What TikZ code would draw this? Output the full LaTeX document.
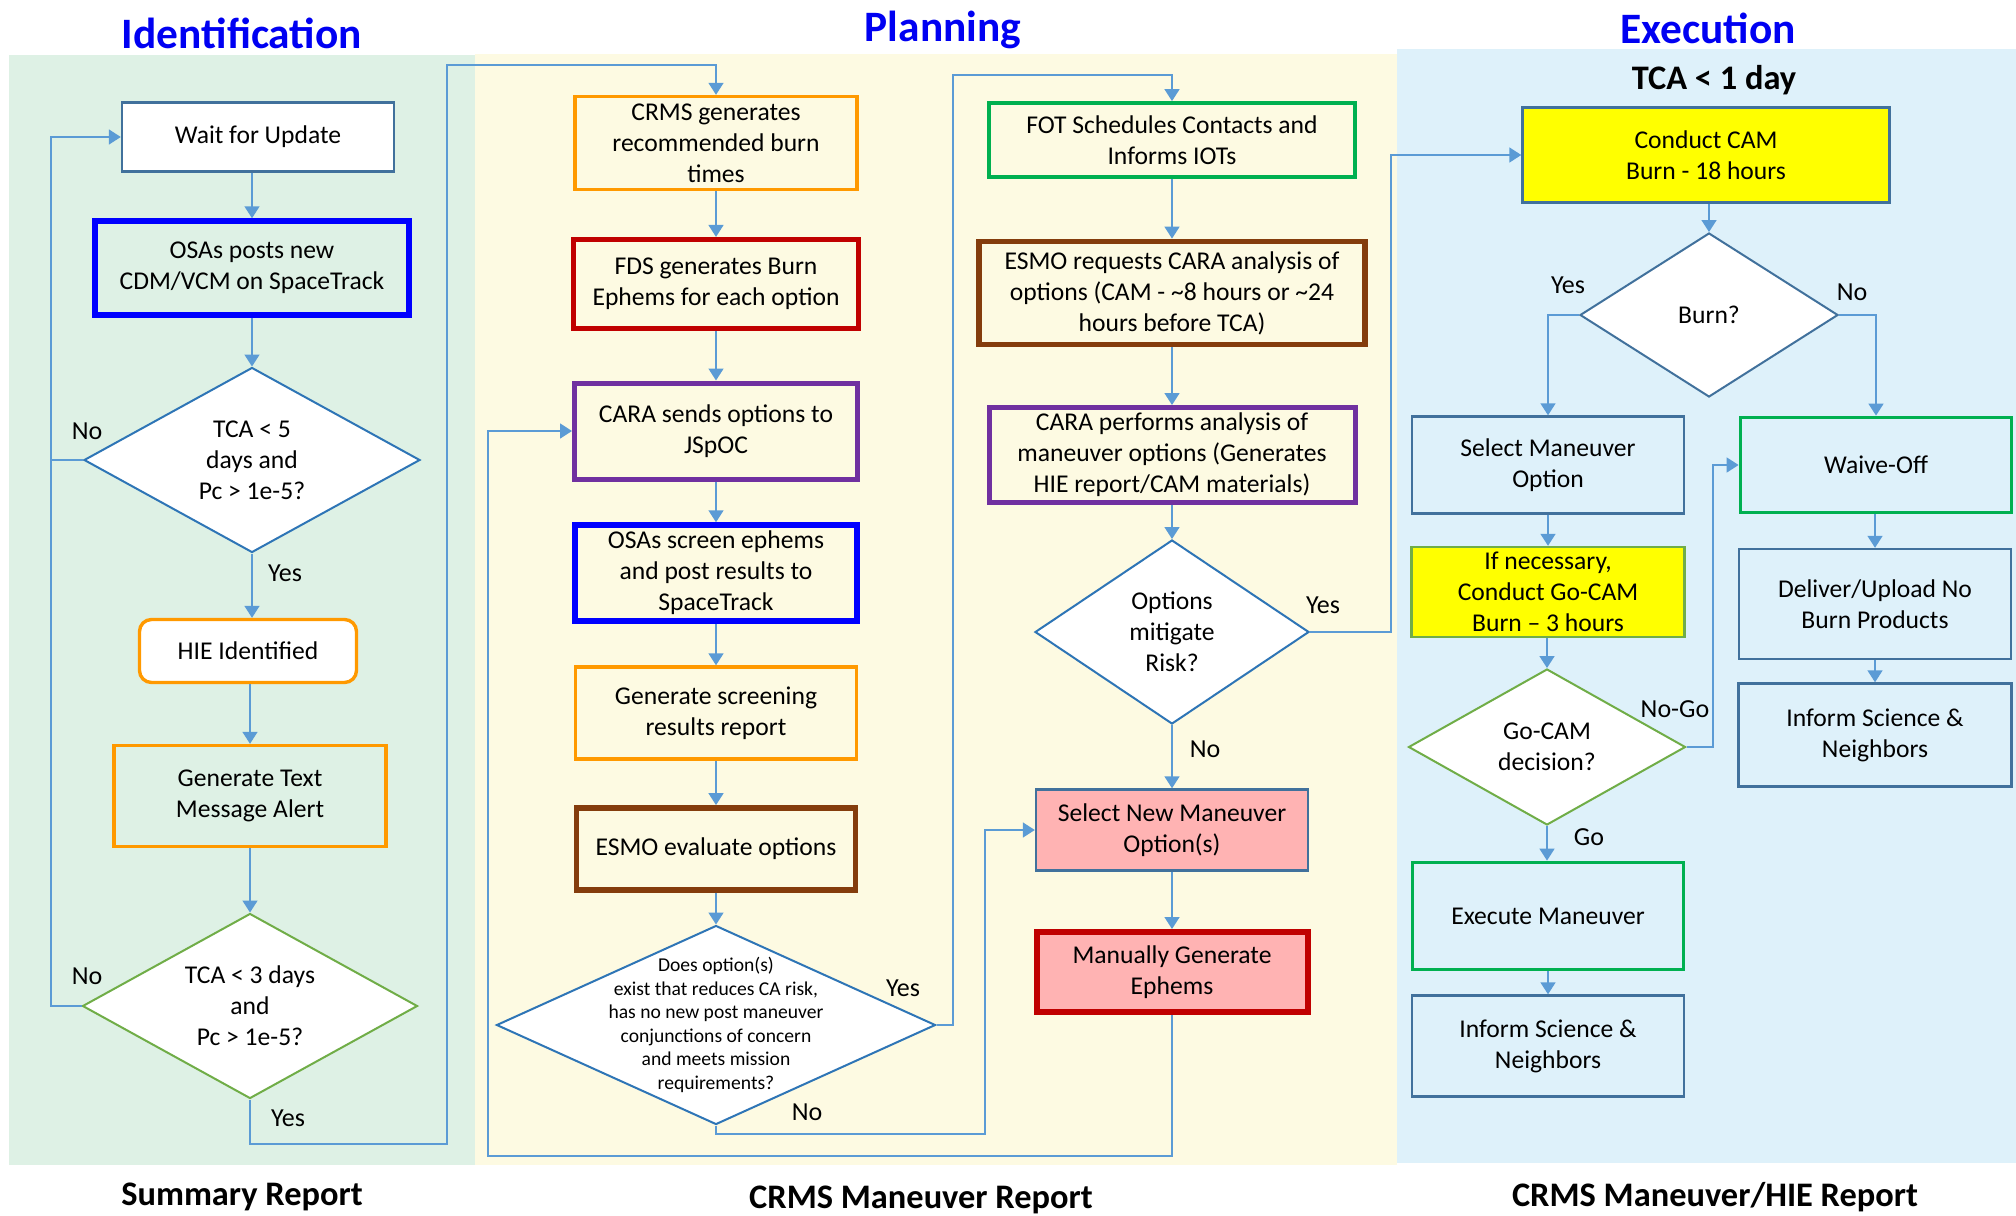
\documentclass[tikz,border=0pt]{standalone}
\usepackage{fontspec}
\setmainfont{Carlito}
\usetikzlibrary{shapes.geometric,arrows.meta}
\definecolor{stblue}{HTML}{41719C}
\definecolor{diablue}{HTML}{2E75B6}
\definecolor{arrowblue}{HTML}{5B9BD5}
\definecolor{orng}{HTML}{FF9900}
\definecolor{bblue}{HTML}{0000FF}
\definecolor{dred}{HTML}{C00000}
\definecolor{purp}{HTML}{7030A0}
\definecolor{brwn}{HTML}{843C0C}
\definecolor{grn}{HTML}{00B050}
\definecolor{lgrn}{HTML}{70AD47}
\definecolor{pnk}{HTML}{FFB3B3}
\definecolor{yel}{HTML}{FFFF00}
\definecolor{titleblue}{HTML}{0000F2}
\definecolor{pgreen}{HTML}{DEF1E5}
\definecolor{pyellow}{HTML}{FDFAE2}
\definecolor{pblue}{HTML}{DEF1FA}
\newcommand\bxfont{\fontsize{12.8pt}{15.5pt}\selectfont}
\newcommand\smfont{\fontsize{9.8pt}{11.75pt}\selectfont}
\newcommand\lblfont{\fontsize{13pt}{15.5pt}\selectfont}
\newcommand\ttlfont{\fontsize{21.7pt}{26pt}\selectfont\bfseries}
\newcommand\subfont{\fontsize{17.2pt}{20pt}\selectfont\bfseries}
\tikzset{
  box/.style={rectangle, draw, align=center, inner sep=1pt, font=\bxfont, text=black},
  thinbox/.style={box, draw=stblue, line width=1.2pt},
  orbox/.style={box, draw=orng, line width=1.7pt},
  bluebox/.style={box, draw=bblue, line width=2.75pt},
  redbox/.style={box, draw=dred, line width=2.6pt},
  purbox/.style={box, draw=purp, line width=2.5pt},
  brbox/.style={box, draw=brwn, line width=2.9pt},
  grbox/.style={box, draw=grn, line width=1.9pt},
  dia/.style={diamond, draw=diablue, fill=white, line width=1pt, inner sep=0pt},
  diatext/.style={align=center, font=\bxfont, text=black, inner sep=0pt},
  arr/.style={draw=arrowblue, line width=0.8pt, -{Triangle[width=7.5pt,length=6pt]}},
  lnk/.style={draw=arrowblue, line width=0.8pt},
  lbl/.style={font=\lblfont, text=black, inner sep=0pt},
}
\begin{document}
\begin{tikzpicture}[x=0.5pt,y=-0.5pt]
\useasboundingbox (0,0) rectangle (2016,1215);
\fill[white] (0,0) rectangle (2016,1215);
% panels
\fill[pgreen] (9,55) rectangle (475,1165);
\fill[pyellow] (475,54) rectangle (1397,1165);
\fill[pblue] (1397,49) rectangle (2016,1163);

% titles
\node[font=\ttlfont, text=titleblue, anchor=base] (t1) at (242,48) {Identification};
\node[font=\ttlfont, text=titleblue, anchor=base] (t2) at (943,41) {Planning};
\node[font=\ttlfont, text=titleblue, anchor=base] (t3) at (1708,43) {Execution};
\node[font=\subfont, text=black, anchor=base] (t4) at (1714,89) {TCA < 1 day};
\node[font=\subfont, text=black, anchor=base] (b1) at (242,1205) {Summary Report};
\node[font=\subfont, text=black, anchor=base] (b2) at (921,1208) {CRMS Maneuver Report};
\node[font=\subfont, text=black, anchor=base] (b3) at (1715,1206) {CRMS Maneuver/HIE Report};

% Identification
\node[thinbox, fill=white, minimum width=136pt, minimum height=34.5pt] (wait) at (258,137) {Wait for Update};
\node[bluebox, minimum width=157pt, minimum height=47pt] (osas) at (252,268) {OSAs posts new\\CDM/VCM on SpaceTrack};
\node[dia, minimum width=168pt, minimum height=92.5pt] (d1) at (252,460) {};
\node[diatext] (d1t) at (d1) {TCA < 5\\days and\\Pc > 1e-5?};
\node[orbox, fill=white, rounded corners=6pt, minimum width=108.5pt, minimum height=31.5pt] (hie) at (248,651) {HIE Identified};
\node[orbox, minimum width=136pt, minimum height=50.5pt] (gentext) at (250,796) {Generate Text\\Message Alert};
\node[dia, draw=lgrn, minimum width=167.5pt, minimum height=92.5pt] (d2) at (250,1006) {};
\node[diatext] (d2t) at (d2) {TCA < 3 days\\and\\Pc > 1e-5?};

% Planning column 1
\node[orbox, minimum width=141pt, minimum height=46.5pt] (crms) at (716,143) {CRMS generates\\recommended burn\\times};
\node[redbox, minimum width=142.5pt, minimum height=44.5pt] (fds) at (716,284) {FDS generates Burn\\Ephems for each option};
\node[purbox, minimum width=141.5pt, minimum height=48pt] (cara1) at (716,431) {CARA sends options to\\JSpOC};
\node[bluebox, minimum width=141pt, minimum height=48pt] (osas2) at (716,573) {OSAs screen ephems\\and post results to\\SpaceTrack};
\node[orbox, minimum width=140.5pt, minimum height=46pt] (genscr) at (716,713) {Generate screening\\results report};
\node[brbox, minimum width=139.5pt, minimum height=41pt] (esmo1) at (716,849) {ESMO evaluate options};
\node[dia, minimum width=219.5pt, minimum height=99.5pt] (d3) at (716,1025) {};
\node[diatext, font=\smfont] (d3t) at (d3) {Does option(s)\\exist that reduces CA risk,\\has no new post maneuver\\conjunctions of concern\\and meets mission\\requirements?};

% Planning column 2
\node[grbox, minimum width=183pt, minimum height=37pt] (fot) at (1172,140) {FOT Schedules Contacts and\\Informs IOTs};
\node[brbox, minimum width=193pt, minimum height=51.5pt] (esmo2) at (1172,293) {ESMO requests CARA analysis of\\options (CAM - \textasciitilde8 hours or \textasciitilde24\\hours before TCA)};
\node[purbox, minimum width=183pt, minimum height=47.5pt] (cara2) at (1172,455) {CARA performs analysis of\\maneuver options (Generates\\HIE report/CAM materials)};
\node[dia, minimum width=137pt, minimum height=92pt] (d4) at (1172,632) {};
\node[diatext] (d4t) at (d4) {Options\\mitigate\\Risk?};
\node[thinbox, fill=pnk, minimum width=136pt, minimum height=40.5pt] (selnew) at (1172,830) {Select New Maneuver\\Option(s)};
\node[redbox, fill=pnk, line width=3pt, minimum width=135.5pt, minimum height=40pt] (manual) at (1172,972) {Manually Generate\\Ephems};

% Execution
\node[thinbox, fill=yel, minimum width=183.5pt, minimum height=47.5pt] (cam) at (1706,155) {Conduct CAM\\Burn - 18 hours};
\node[dia, draw=stblue, minimum width=129pt, minimum height=82pt] (d5) at (1709,315) {};
\node[diatext] (d5t) at (d5) {Burn?};
\node[thinbox, minimum width=136pt, minimum height=48.5pt] (selman) at (1548,465) {Select Maneuver\\Option};
\node[grbox, minimum width=135.5pt, minimum height=47.5pt] (waive) at (1876,465) {Waive-Off};
\node[box, draw=lgrn, line width=1.2pt, fill=yel, minimum width=136.5pt, minimum height=45pt] (gocam) at (1548,592) {If necessary,\\Conduct Go-CAM\\Burn – 3 hours};
\node[dia, draw=lgrn, minimum width=138.5pt, minimum height=78pt] (d6) at (1547,747) {};
\node[diatext] (d6t) at (d6) {Go-CAM\\decision?};
\node[grbox, minimum width=135.5pt, minimum height=53.5pt] (exec) at (1548,916) {Execute Maneuver};
\node[thinbox, minimum width=136pt, minimum height=50.5pt] (inf1) at (1548,1046) {Inform Science \&\\Neighbors};
\node[thinbox, minimum width=136pt, minimum height=55pt] (deliver) at (1875,604) {Deliver/Upload No\\Burn Products};
\node[thinbox, minimum width=136.5pt, minimum height=51.5pt] (inf2) at (1875,735) {Inform Science \&\\Neighbors};

% helper coordinates
\coordinate (lx) at (51,0);
\coordinate (j1) at (447,1144);
\coordinate (j2) at (447,65);
\coordinate (k1) at (953,75);
\coordinate (m1) at (985,1134);
\coordinate (n1) at (488,1156);
\coordinate (p1) at (1391,155);
\coordinate (q1) at (1713,0);

% Identification connectors
\draw[arr] (wait.south -| osas) -- (osas.north);
\draw[arr] (osas.south) -- (d1.north);
\draw[arr] (d1.south) -- (d1.south |- hie.north);
\draw[arr] (hie.south -| gentext) -- (gentext.north);
\draw[arr] (gentext.south) -- (d2.north);
\draw[arr] (d1.west) -- (d1.west -| lx) |- (wait.west);
\draw[lnk] (d2.west) -- (d2.west -| lx) -- (d1.west -| lx);
\draw[arr] (d2.south) |- (j1) -- (j2) -| (crms.north);

% Planning connectors
\draw[arr] (crms) -- (fds);
\draw[arr] (fds) -- (cara1);
\draw[arr] (cara1) -- (osas2);
\draw[arr] (osas2) -- (genscr);
\draw[arr] (genscr) -- (esmo1);
\draw[arr] (esmo1.south) -- (d3.north);
\draw[arr] (d3.east) -| (k1) -| (fot.north);
\draw[arr] (d3.south) |- (m1) |- (selnew.west);
\draw[arr] (manual.south) |- (n1) |- (cara1.west);
\draw[arr] (fot) -- (esmo2);
\draw[arr] (esmo2) -- (cara2);
\draw[arr] (cara2.south) -- (d4.north);
\draw[arr] (d4.east) -| (p1) -- (cam.west);
\draw[arr] (d4.south) -- (selnew.north);
\draw[arr] (selnew) -- (manual);

% Execution connectors
\draw[arr] (cam.south -| d5) -- (d5.north);
\draw[arr] (d5.west) -| (selman.north);
\draw[arr] (d5.east) -| (waive.north);
\draw[arr] (selman.south) -- (gocam.north);
\draw[arr] (gocam.south -| d6) -- (d6.north);
\draw[arr] (d6.south) -- (d6.south |- exec.north);
\draw[arr] (exec.south) -- (inf1.north);
\draw[arr] (d6.east) -- (d6.east -| q1) |- (waive.west);
\draw[arr] (waive.south -| deliver) -- (deliver.north);
\draw[arr] (deliver) -- (inf2);

% labels
\node[lbl] (l1) at (87,431) {No};
\node[lbl] (l2) at (285,573) {Yes};
\node[lbl] (l3) at (87,976) {No};
\node[lbl] (l4) at (288,1118) {Yes};
\node[lbl] (l5) at (903,988) {Yes};
\node[lbl] (l6) at (807,1112) {No};
\node[lbl] (l7) at (1323,605) {Yes};
\node[lbl] (l8) at (1205,749) {No};
\node[lbl] (l9) at (1568,285) {Yes};
\node[lbl] (l10) at (1852,292) {No};
\node[lbl] (l11) at (1675,709) {No-Go};
\node[lbl] (l12) at (1589,837) {Go};
\end{tikzpicture}
\end{document}
